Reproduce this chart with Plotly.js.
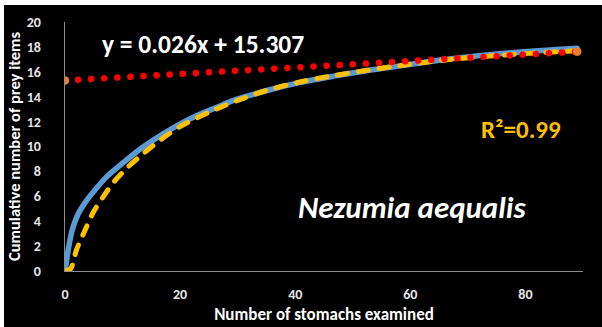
<!DOCTYPE html>
<html>
<head>
<meta charset="utf-8">
<script src="https://cdn.plot.ly/plotly-3.0.1.min.js"></script>
<style>
  html, body { margin: 0; padding: 0; background: #ffffff; width: 602px; height: 327px; overflow: hidden; }
  #chart { position: absolute; left: 4px; top: 5px; width: 598px; height: 322px; background: #000; }
  #chart path.js-line { stroke-linecap: round; stroke-linejoin: round; }
</style>
</head>
<body>
<div id="chart"></div>
<script>
// Observed cumulative number of prey items
const observedX = [0, 0.6, 1.2, 2.3, 3.8, 5.2, 7.3, 9.6, 12.5, 14.5, 16.5, 19.4, 22.3, 26.4, 29.3, 35.1, 40.9, 46.7, 52.5, 57.1, 66.4, 78, 89];
const observedY = [0, 1.8, 3.2, 4.6, 5.7, 6.5, 7.6, 8.5, 9.6, 10.25, 10.85, 11.65, 12.35, 13.15, 13.7, 14.5, 15.15, 15.65, 16.1, 16.4, 17.0, 17.55, 17.9];

// Fitted curve (dashed yellow)
const fittedX = [0, 1, 2, 3.5, 4.9, 6.7, 8.4, 10.7, 13, 16.5, 20, 25, 30, 35, 41, 47, 52.5, 57, 66, 78, 89];
const fittedY = [0, 0.2, 1.7, 3.3, 4.7, 6.0, 7.1, 8.25, 9.2, 10.5, 11.6, 12.75, 13.7, 14.5, 15.2, 15.72, 16.12, 16.42, 16.95, 17.4, 17.7];

// Linear trend of the last part: y = 0.026x + 15.307
const trendSlope = 0.026;
const trendIntercept = 15.307;
const trendX = [0, 89];
const trendY = trendX.map(x => trendSlope * x + trendIntercept);

const xTicks = [0, 20, 40, 60, 80];
const yTicks = [0, 2, 4, 6, 8, 10, 12, 14, 16, 18, 20];

const FONT = "Carlito, Calibri, 'Liberation Sans', Arial, sans-serif";

const traces = [
  { x: observedX, y: observedY, mode: 'lines', line: { color: '#5B9BD5', width: 5.5, shape: 'spline', smoothing: 0.8 }, hoverinfo: 'skip' },
  { x: fittedX, y: fittedY, mode: 'lines', line: { color: '#FFC000', width: 5, dash: '10px,11px', shape: 'spline', smoothing: 0.8 }, hoverinfo: 'skip' },
  { x: trendX, y: trendY, mode: 'lines', line: { color: '#FF0000', width: 6.5, dash: '0.1px,13px' }, hoverinfo: 'skip' },
  { x: trendX, y: trendY, mode: 'markers', marker: { color: '#ED7D31', size: 8.5 }, hoverinfo: 'skip' }
];

const W = 598, H = 322, L = 61, R = 19, T = 17, B = 56;
const pw = W - L - R, ph = H - T - B;
function px2paperX(px) { return (px - 4 - L) / pw; }
function px2paperY(py) { return (H - B - (py - 5)) / ph; }

const layout = {
  width: W, height: H,
  paper_bgcolor: '#000000', plot_bgcolor: '#000000',
  margin: { l: L, r: R, t: T, b: B, pad: 0 },
  showlegend: false,
  font: { family: FONT, color: '#FFFFFF' },
  xaxis: {
    range: [0, 90], tickvals: xTicks, ticktext: xTicks.map(String),
    showgrid: false, zeroline: false, showline: true, linecolor: '#8C8C8C', linewidth: 1.3,
    ticks: '', ticklabelstandoff: 10,
    tickfont: { family: FONT, size: 14, color: '#E6E6E6', weight: 'bold' },
    title: { text: 'Number of stomachs examined', standoff: 6,
             font: { family: FONT, size: 17, color: '#FFFFFF', weight: 'bold' } },
    fixedrange: true
  },
  yaxis: {
    range: [0, 20], tickvals: yTicks, ticktext: yTicks.map(String),
    showgrid: false, zeroline: false, showline: true, linecolor: '#8C8C8C', linewidth: 1.3,
    ticks: '', ticklabelstandoff: 20,
    tickfont: { family: FONT, size: 14, color: '#E6E6E6', weight: 'bold' },
    title: { text: 'Cumulative number of prey items', standoff: 2,
             font: { family: FONT, size: 16.5, color: '#FFFFFF', weight: 'bold' } },
    fixedrange: true
  },
  annotations: [
    { text: 'y = 0.026x + 15.307', xref: 'paper', yref: 'paper', x: px2paperX(202.5), y: px2paperY(44),
      xanchor: 'center', yanchor: 'middle', showarrow: false,
      font: { family: FONT, size: 25.5, color: '#FFFFFF', weight: 'bold' } },
    { text: 'R²=0.99', xref: 'paper', yref: 'paper', x: px2paperX(521), y: px2paperY(130),
      xanchor: 'center', yanchor: 'middle', showarrow: false,
      font: { family: FONT, size: 25, color: '#FFC000', weight: 'bold' } },
    { text: '<i>Nezumia aequalis</i>', xref: 'paper', yref: 'paper', x: px2paperX(411.5), y: px2paperY(207),
      xanchor: 'center', yanchor: 'middle', showarrow: false,
      font: { family: FONT, size: 31, color: '#FFFFFF', weight: 'bold' } }
  ]
};

Plotly.newPlot('chart', traces, layout, { staticPlot: true, displayModeBar: false });
</script>
</body>
</html>
